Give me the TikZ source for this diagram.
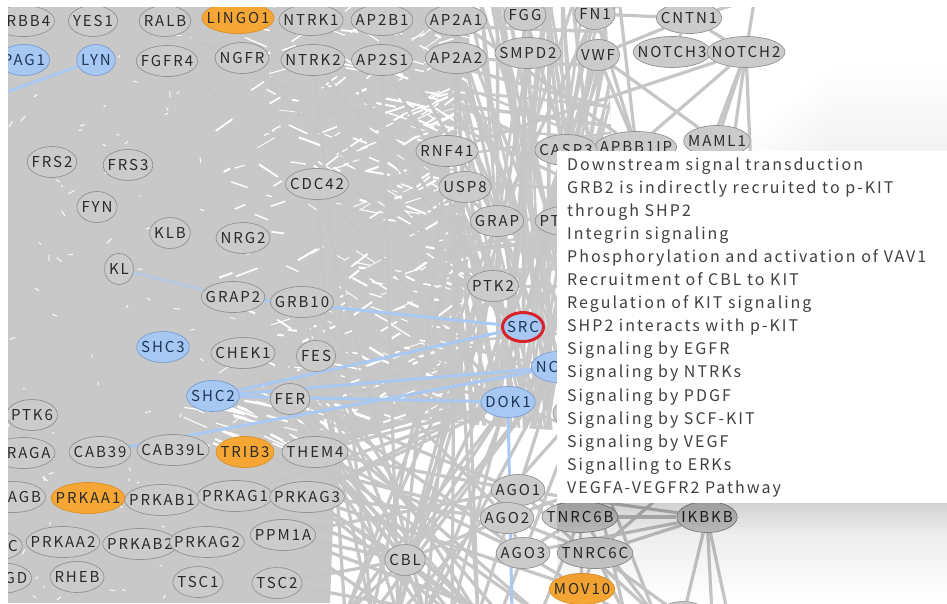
\documentclass[tikz,border=0pt]{standalone}
\usepackage{fontspec}
\newfontfamily\nodefnt[LetterSpace=13]{Noto Sans CJK JP}
\newfontfamily\tipfnt[LetterSpace=12.5]{Noto Sans CJK JP}
\usetikzlibrary{shapes.geometric}
\definecolor{edgegray}{HTML}{C6C6C6}
\definecolor{densegray}{HTML}{C8C8C8}
\definecolor{nodegray}{HTML}{CBCBCB}
\definecolor{nodeedge}{HTML}{929292}
\definecolor{nblue}{HTML}{A7C8F2}
\definecolor{nblueedge}{HTML}{7C9CCB}
\definecolor{norange}{HTML}{F5A634}
\definecolor{norangeedge}{HTML}{DB9027}
\definecolor{eblue}{HTML}{A9C9F3}
\definecolor{txt}{HTML}{2A2A2A}
\definecolor{bluetxt}{HTML}{1E3656}
\definecolor{tiptxt}{HTML}{404040}
\definecolor{ring}{HTML}{D8232A}
\pgfdeclarelayer{back}
\pgfdeclarelayer{edgel}
\pgfdeclarelayer{front}
\pgfsetlayers{back,edgel,main,front}
\newcommand\gnode[3][gn]{\node[#1] (#2) at (#3) {\makebox[0.7071\width][c]{#2}};}
\begin{document}
\begin{tikzpicture}[x=1pt,y=-1pt,
  gn/.style={ellipse, draw=nodeedge, fill=nodegray, line width=0.7pt, inner xsep=3.2pt, inner ysep=0pt, minimum height=31pt, text=txt, font=\nodefnt\fontsize{15}{18}\selectfont},
  bn/.style={gn, fill=nblue, draw=nblueedge, text=bluetxt},
  on/.style={gn, fill=norange, draw=norangeedge, text=txt},
  sn/.style={bn, draw=ring, line width=3pt, minimum height=29pt},
  ge/.style={draw=edgegray, line width=3.2pt},
  be/.style={draw=eblue, line width=3pt},
  tip/.style={anchor=base west, inner sep=0pt, text=tiptxt, font=\tipfnt\fontsize{16}{19}\selectfont}]
\useasboundingbox (0,0) rectangle (947,603);

% ---------------- nodes ----------------
\begin{scope}
\clip (8,7) rectangle (947,603);
\gnode{ERBB4}{23,21}
\gnode{YES1}{93,21}
\gnode{RALB}{165,21}
\gnode[on]{LINGO1}{238,18}
\gnode{NTRK1}{311,20}
\gnode{AP2B1}{382,20}
\gnode{AP2A1}{456,20}
\gnode{FGG}{525,15}
\gnode{FN1}{595,14}
\gnode{CNTN1}{689,18}
\gnode[bn]{PAG1}{24,60}
\gnode[bn]{LYN}{96,60}
\gnode{FGFR4}{167,61}
\gnode{NGFR}{242,58}
\gnode{NTRK2}{313,60}
\gnode{AP2S1}{382,60}
\gnode{AP2A2}{456,58}
\gnode{SMPD2}{528,53}
\gnode{VWF}{598,55}
\gnode{NOTCH3}{672,52}
\gnode{NOTCH2}{746,52}
\gnode{MAML1}{717,141}
\gnode{APBB1IP}{636,147}
\gnode{CASP3}{566,150}
\gnode{RNF41}{447,151}
\gnode{USP8}{465,187}
\gnode{GRAP}{497,221}
\gnode{PTPN11}{572,221}
\gnode{CDC42}{317,184}
\gnode{FRS2}{52,162}
\gnode{FRS3}{128,165}
\gnode{FYN}{97,207}
\gnode{KLB}{170,233}
\gnode{NRG2}{243,238}
\gnode{KL}{119,269}
\gnode{GRAP2}{233,297}
\gnode{GRB10}{302,302}
\gnode{PTK2}{493,286}
\gnode[sn]{SRC}{523,327}
\gnode[bn]{SHC3}{163,347}
\gnode{CHEK1}{243,353}
\gnode{FES}{316,356}
\gnode[bn]{NCK1}{558,367}
\gnode[bn]{SHC2}{213,396}
\gnode{FER}{290,399}
\gnode[bn]{DOK1}{508,402}
\node[gn,minimum width=50pt] (hx) at (578,413) {};
\gnode{PTK6}{32,415}
\gnode{RRAGA}{23,453}
\gnode{CAB39}{100,452}
\gnode{CAB39L}{173,450}
\gnode[on]{TRIB3}{245,452}
\gnode{THEM4}{315,452}
\gnode{RRAGB}{13,497}
\gnode[on]{PRKAA1}{88,498}
\gnode{PRKAB1}{162,500}
\gnode{PRKAG1}{235,496}
\gnode{PRKAG3}{307,497}
\gnode{RRAGC}{-10,546}
\gnode{PRKAA2}{63,542}
\gnode{PRKAB2}{140,544}
\gnode{PRKAG2}{207,542}
\gnode{PPM1A}{283,535}
\gnode{RRAGD}{-1,578}
\gnode{RHEB}{77,577}
\gnode{TSC1}{198,582}
\gnode{TSC2}{277,583}
\gnode{CBL}{405,560}
\gnode{AGO1}{518,490}
\gnode{AGO2}{507,518}
\gnode{TNRC6B}{580,517}
\gnode{AGO3}{523,553}
\gnode{TNRC6C}{595,553}
\gnode[on]{MOV10}{582,589}
\gnode{IKBKB}{707,517}
\node[gn,minimum width=52pt] (botn) at (683,617) {};
\end{scope}

% free ends of connectors
\coordinate (b1) at (345,615);  \coordinate (b2) at (372,615);
\coordinate (b3) at (398,615);  \coordinate (b4) at (425,615);
\coordinate (b5) at (452,615);  \coordinate (b6) at (478,615);
\coordinate (b7) at (500,615);  \coordinate (b8) at (540,615);
\coordinate (b9) at (625,615);  \coordinate (b10) at (655,615);
\coordinate (b11) at (712,615); \coordinate (b12) at (728,615);
\coordinate (bdok) at (512,615);
\coordinate (t1) at (756,-10);  \coordinate (t2) at (772,-6);
\coordinate (t4) at (618,-10);  \coordinate (t5) at (665,-10);
\coordinate (h1) at (690,200);  \coordinate (h2) at (725,200);
\coordinate (h3) at (752,195);  \coordinate (h5) at (690,470);
\coordinate (h6) at (640,470);  \coordinate (h7) at (600,470);
\coordinate (h8) at (722,470);
\coordinate (offl) at (-30,105);

% ---------------- connectors ----------------
\begin{pgfonlayer}{edgel}
\begin{scope}
\clip (8,7) rectangle (947,603);
\foreach \a/\b in {FN1/APBB1IP, VWF/APBB1IP, VWF/MAML1, FN1/CNTN1, VWF/CNTN1,
  CNTN1/NOTCH2, CNTN1/NOTCH3, NOTCH2/MAML1, NOTCH2/APBB1IP, NOTCH2/h1, NOTCH2/h2,
  NOTCH2/h3, RNF41/NOTCH2, NOTCH2/t1, CNTN1/t2, t4/APBB1IP, AP2A1/APBB1IP,
  FGG/CASP3, FN1/t5,
  LINGO1/GRAP, NTRK1/PTK2, NGFR/SRC, FGFR4/PTK2, AP2B1/GRAP, RALB/USP8,
  FGG/SRC, SMPD2/PTK2, FN1/GRAP, FN1/SRC, VWF/SRC, SMPD2/DOK1, AP2A1/SRC, CASP3/SRC,
  GRB10/b2, FES/b3, FER/b5, CHEK1/b6, PTK2/b1, GRAP/b3, USP8/b4, CDC42/b4,
  AP2A2/b5, AP2S1/b3, NTRK2/b2, DOK1/CBL, SRC/CBL, PTK2/CBL, GRAP/CBL, CBL/b1,
  CBL/b6, CBL/AGO2, CBL/THEM4, CBL/PRKAG3, CBL/PPM1A, THEM4/AGO1, THEM4/AGO3,
  PRKAG3/AGO2, PRKAG3/DOK1, PPM1A/AGO1, PPM1A/b7, PRKAG1/DOK1, TRIB3/AGO2,
  FER/AGO1, FES/DOK1, SHC3/b8, CHEK1/AGO3, GRB10/AGO2, DOK1/b1, NCK1/b2,
  NCK1/CBL, hx/b3, RNF41/b6, TSC2/b5, PRKAG3/MOV10, GRAP2/b7,
  CDC42/b1, GRB10/b4, FES/b6, FER/b8, THEM4/b4, THEM4/b6, PRKAG3/b5, PPM1A/b3,
  TSC2/CBL, PRKAG1/CBL, TRIB3/b6, CHEK1/CBL, DOK1/b4, SRC/b5, PTK2/b3, NCK1/b4,
  NCK1/b6, hx/b7, GRAP/b1, USP8/b2, RNF41/b3, AP2A1/b6, THEM4/DOK1, PRKAG3/NCK1,
  FER/NCK1, GRB10/DOK1, AP2S1/SRC, NTRK2/PTK2, CDC42/SRC, CDC42/DOK1,
  TNRC6B/IKBKB, AGO1/IKBKB, IKBKB/botn, IKBKB/b11, IKBKB/b12, IKBKB/TNRC6C,
  TNRC6B/b10, TNRC6C/b9, AGO1/b10, hx/b9, NCK1/b10, h5/TNRC6C, h6/AGO2,
  IKBKB/AGO3, MOV10/b9, h7/b8, TNRC6C/botn, IKBKB/h8,
  AGO1/AGO2, AGO2/AGO3, AGO1/TNRC6B, AGO2/TNRC6C, AGO3/TNRC6B, TNRC6B/MOV10,
  TNRC6C/MOV10, AGO3/MOV10}
  {\draw[ge] (\a) -- (\b);}
\foreach \a/\b in {LYN/offl, SHC2/NCK1, SHC2/SRC, SHC2/DOK1, GRAP2/SRC, CAB39/NCK1, DOK1/bdok}
  {\draw[be] (\a) -- (\b);}
\draw[be, draw=eblue!55!densegray] (KL) -- (GRAP2);
\end{scope}
\end{pgfonlayer}

% ---------------- dense edge mass ----------------
\begin{pgfonlayer}{back}
\fill[white] (0,0) rectangle (947,603);
\foreach \s in {1,...,12}
  \fill[black, opacity=0.0045] ({720+9*\s},{151-7*\s}) rectangle (960,151);
\begin{scope}
\clip (8,7) -- (606,7) -- (612,151) -- (557,151) -- (557,430) -- (480,425) -- (420,420)
  -- (350,440) -- (335,470) -- (330,603) -- (8,603) -- cycle;
\fill[densegray] (0,0) rectangle (947,603);
\pgfmathsetseed{271}
\foreach \i in {1,...,90}{
  \pgfmathsetmacro\xx{8+200*rnd}
  \pgfmathsetmacro\yy{7+596*rnd}
  \pgfmathsetmacro\aa{360*rnd}
  \pgfmathsetmacro\ll{2+5*rnd}
  \draw[white, line width=0.9pt] (\xx,\yy) -- ++(\aa:\ll pt);
}
\foreach \i in {1,...,380}{
  \pgfmathsetmacro\xx{200+270*sqrt(rnd)}
  \pgfmathsetmacro\yy{7+423*rnd}
  \pgfmathsetmacro\aa{rnd<0.5 ? (-5-30*rnd) : (15+25*rnd)}
  \pgfmathsetmacro\ll{5+19*rnd}
  \pgfmathsetmacro\ww{0.7+1.7*rnd}
  \draw[white, line width=\ww pt] (\xx,\yy) -- ++(\aa:\ll pt);
}
\foreach \i in {1,...,45}{
  \pgfmathsetmacro\xx{170+175*rnd}
  \pgfmathsetmacro\yy{398+47*rnd}
  \pgfmathsetmacro\aa{-8-20*rnd}
  \pgfmathsetmacro\ll{10+20*rnd}
  \pgfmathsetmacro\ww{1+2*rnd}
  \draw[white, line width=\ww pt] (\xx,\yy) -- ++(\aa:\ll pt);
}
% open mesh on the right of the mass
\begin{scope}
\clip (472,7) -- (612,7) -- (612,440) -- (470,440) -- (458,330) -- (470,250) -- (452,160) -- (466,90) -- cycle;
\fill[white] (440,0) rectangle (620,450);
\foreach \i in {1,...,62}{
  \pgfmathsetmacro\xa{380+260*rnd}
  \pgfmathsetmacro\xb{430+200*rnd}
  \pgfmathsetmacro\ww{2.4+1.4*rnd}
  \draw[densegray, line width=\ww pt] (\xa,-5) -- (\xb,450);
}
\foreach \i in {1,...,26}{
  \pgfmathsetmacro\ya{-50+470*rnd}
  \pgfmathsetmacro\yb{\ya-40+160*rnd}
  \pgfmathsetmacro\ww{2.4+1.2*rnd}
  \draw[densegray, line width=\ww pt] (380,\ya) -- (620,\yb);
}
\end{scope}
\end{scope}
\end{pgfonlayer}

% ---------------- tooltip ----------------
\begin{pgfonlayer}{front}
\foreach \s in {1,...,12}
  \fill[black, opacity=0.006] (557,503) rectangle (960,{503+8*\s});
\foreach \s in {1,...,10}
  \fill[black, opacity=0.009] (557,503) rectangle (960,{503+3*\s});
\fill[white] (557,151) rectangle (960,503);
\foreach \t [count=\i from 0] in {Downstream signal transduction,
  GRB2 is indirectly recruited to p-KIT, through SHP2, Integrin signaling,
  Phosphorylation and activation of VAV1, Recruitment of CBL to KIT,
  Regulation of KIT signaling, SHP2 interacts with p-KIT, Signaling by EGFR,
  Signaling by NTRKs, Signaling by PDGF, Signaling by SCF-KIT, Signaling by VEGF,
  Signalling to ERKs, VEGFA-VEGFR2 Pathway}
  {\node[tip] (tip\i) at (567,{170+23.1*\i}) {\t};}
\end{pgfonlayer}
\end{tikzpicture}
\end{document}
